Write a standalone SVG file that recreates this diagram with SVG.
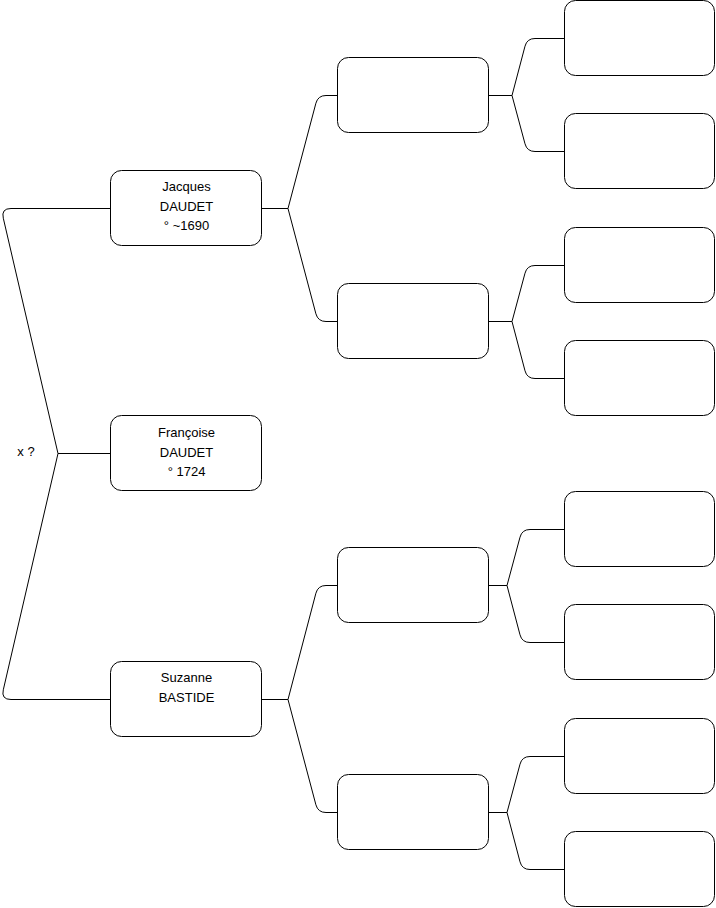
<svg xmlns="http://www.w3.org/2000/svg" width="716" height="908" viewBox="0 0 716 908">
<style>
.box{fill:#fff;stroke:#000;stroke-width:1}
.ln{fill:none;stroke:#000;stroke-width:1}
text{font-family:"Liberation Sans",Arial,Helvetica,sans-serif;font-size:13px;fill:#000;text-anchor:middle}
</style>
<rect width="716" height="908" fill="#fff"/>
<g id="connectors">
<path class="ln" d="M110.5 453.5 H58 M58 453.5 L3.3 218.2 Q1 208.5 11 208.5 H110.5 M58 453.5 L3.3 689.8 Q1 699.5 11 699.5 H110.5"/>
<path class="ln" d="M261.5 208.5 H288 L315.9 103.2 Q318 95.5 326 95.5 H337.5 M288 208.5 L315.9 313.8 Q318 321.5 326 321.5 H337.5"/>
<path class="ln" d="M261.5 699.5 H288 L315.9 593.2 Q318 585.5 326 585.5 H337.5 M288 699.5 L315.9 804.8 Q318 812.5 326 812.5 H337.5"/>
<path class="ln" d="M488.5 95.5 H512 L525 46.2 Q527 38.5 535 38.5 H564.5 M512 95.5 L525 143.8 Q527 151.5 535 151.5 H564.5"/>
<path class="ln" d="M488.5 321.5 H512 L525 273.2 Q527 265.5 535 265.5 H564.5 M512 321.5 L525 370.8 Q527 378.5 535 378.5 H564.5"/>
<path class="ln" d="M488.5 585.5 H507 L520 537.2 Q522 529.5 530 529.5 H564.5 M507 585.5 L520 634.8 Q522 642.5 530 642.5 H564.5"/>
<path class="ln" d="M488.5 812.5 H507 L520 764.2 Q522 756.5 530 756.5 H564.5 M507 812.5 L520 861.8 Q522 869.5 530 869.5 H564.5"/>
</g>
<g id="label-x"><text x="26" y="456">x ?</text></g>
<g id="jacques"><rect class="box" x="110.5" y="170.5" width="151" height="75" rx="11"/><text x="186.5" y="191">Jacques</text><text x="186.5" y="211">DAUDET</text><text x="186.5" y="230">° ~1690</text></g>
<g id="francoise"><rect class="box" x="110.5" y="415.5" width="151" height="75" rx="11"/><text x="186.5" y="437">Françoise</text><text x="186.5" y="457">DAUDET</text><text x="186.5" y="476">° 1724</text></g>
<g id="suzanne"><rect class="box" x="110.5" y="661.5" width="151" height="75" rx="11"/><text x="186.5" y="682">Suzanne</text><text x="186.5" y="702">BASTIDE</text></g>
<g id="g2a"><rect class="box" x="337.5" y="57.5" width="151" height="75" rx="11"/></g>
<g id="g2b"><rect class="box" x="337.5" y="283.5" width="151" height="75" rx="11"/></g>
<g id="g2c"><rect class="box" x="337.5" y="547.5" width="151" height="75" rx="11"/></g>
<g id="g2d"><rect class="box" x="337.5" y="774.5" width="151" height="75" rx="11"/></g>
<g id="g3a"><rect class="box" x="564.5" y="0.5" width="150" height="75" rx="11"/></g>
<g id="g3b"><rect class="box" x="564.5" y="113.5" width="150" height="75" rx="11"/></g>
<g id="g3c"><rect class="box" x="564.5" y="227.5" width="150" height="75" rx="11"/></g>
<g id="g3d"><rect class="box" x="564.5" y="340.5" width="150" height="75" rx="11"/></g>
<g id="g3e"><rect class="box" x="564.5" y="491.5" width="150" height="75" rx="11"/></g>
<g id="g3f"><rect class="box" x="564.5" y="604.5" width="150" height="75" rx="11"/></g>
<g id="g3g"><rect class="box" x="564.5" y="718.5" width="150" height="75" rx="11"/></g>
<g id="g3h"><rect class="box" x="564.5" y="831.5" width="150" height="75" rx="11"/></g>
</svg>
